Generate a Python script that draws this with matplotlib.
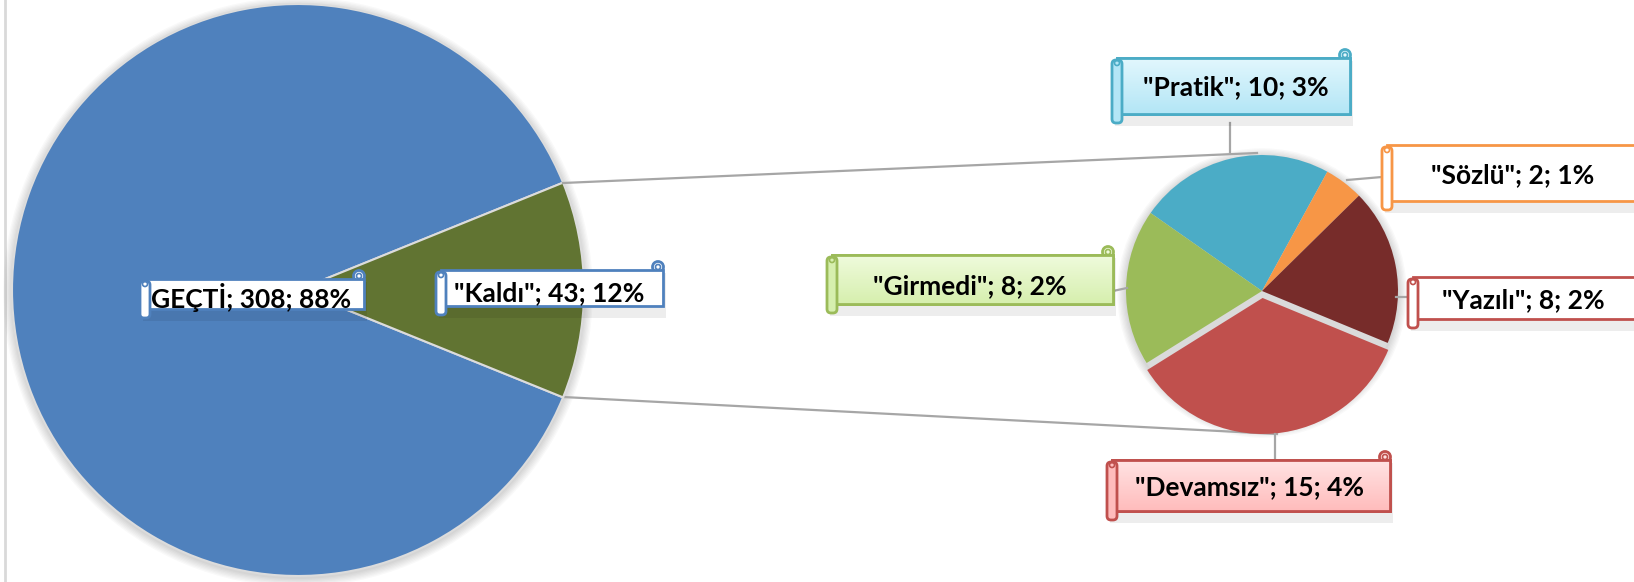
import numpy as np
import matplotlib.pyplot as plt
from matplotlib.patches import Rectangle, FancyBboxPatch, Circle
from matplotlib.colors import LinearSegmentedColormap

W, H = 1634, 582

# data
main_labels = ['GEÇTİ', '"Kaldı"']
main_values = [308, 43]
main_colors = ['#4F81BD', '#617432']

sub_labels = ['"Pratik"', '"Sözlü"', '"Yazılı"', '"Devamsız"', '"Girmedi"']
sub_values = [10, 2, 8, 15, 8]
sub_colors = ['#4BACC6', '#F79646', '#772C2A', '#C0504D', '#9BBB59']

total = sum(main_values)

def Y(y):
    # pixel row (from top) -> data y
    return H - y

# label boxes: x0, y0, x1, y1 (pixels from top), text centre, fill top/bottom, edge
boxes = {
    'GEÇTİ':      ((140, 279, 364, 318), (251, 298), '#ffffff', '#ffffff', '#4F81BD'),
    '"Kaldı"':    ((436, 270, 663, 315), (549, 293), '#ffffff', '#ffffff', '#4F81BD'),
    '"Pratik"':   ((1112, 58, 1350, 123), (1236, 87), '#e2f7fd', '#b3e6f6', '#4BACC6'),
    '"Sözlü"':    ((1382, 145, 1670, 210), (1513, 175), '#ffffff', '#ffffff', '#F79646'),
    '"Yazılı"':   ((1408, 277, 1670, 328), (1523, 300), '#ffffff', '#ffffff', '#C0504D'),
    '"Devamsız"': ((1107, 460, 1390, 520), (1250, 487), '#ffe3e3', '#ffbcbc', '#C0504D'),
    '"Girmedi"':  ((827, 255, 1113, 313), (970, 286), '#effbdc', '#d6efae', '#9BBB59'),
}

leaders = [
    ((1230, 123), (1230, 152)),
    ((1347, 180), (1382, 177)),
    ((1113, 291), (1127, 288)),
    ((1396, 297), (1408, 297)),
    ((1275, 434), (1275, 460)),
]

fig = plt.figure(figsize=(W / 100, H / 100), dpi=100)
ax = fig.add_axes([0, 0, 1, 1])


def shadow(ax, cx, cy, r):
    for i in range(7):
        ax.add_patch(Circle((cx, Y(cy) - 2), r + 1 + i * 1.3, fc='black',
                            alpha=0.025, lw=0, zorder=1))


def scroll(ax, box, face_top, face_bot, edge):
    x0, y0, x1, y1 = box
    roll = 10
    body_bot = y1 - 9
    ax.add_patch(Rectangle((x0 + 3, Y(y1) - 3), x1 - x0, y1 - y0, fc='black',
                           alpha=0.07, lw=0, zorder=5))
    ax.add_patch(Circle((x1 - 5, Y(y0 - 3)), 5.5, fc=face_top, ec=edge, lw=2, zorder=6))
    body = Rectangle((x0 + roll / 2, Y(body_bot)), x1 - x0 - roll / 2, body_bot - y0,
                     fc=face_bot, ec=edge, lw=2, zorder=7)
    ax.add_patch(body)
    if face_top != face_bot:
        cmap = LinearSegmentedColormap.from_list('g', [face_top, face_bot])
        grad = np.linspace(0, 1, 64).reshape(-1, 1)
        im = ax.imshow(grad, cmap=cmap, extent=(x0, x1, Y(body_bot), Y(y0)),
                       aspect='auto', origin='upper', zorder=7.5)
        im.set_clip_path(body)
        ax.add_patch(Rectangle((x0 + roll / 2, Y(body_bot)), x1 - x0 - roll / 2,
                               body_bot - y0, fc='none', ec=edge, lw=2, zorder=7.6))
    ax.add_patch(FancyBboxPatch((x0, Y(y1)), roll, y1 - y0 - 2,
                                boxstyle='round,pad=0,rounding_size=4',
                                fc=face_bot, ec=edge, lw=2, zorder=8))
    ax.add_patch(Circle((x0 + 5, Y(y0 + 5)), 2.5, fc='none', ec=edge, lw=1.2, zorder=9))
    ax.add_patch(Circle((x1 - 5, Y(y0 - 3)), 2.5, fc='none', ec=edge, lw=1.2, zorder=9))


# big pie
big_c, big_r = (298, 290), 286
shadow(ax, big_c[0], big_c[1], big_r)
kal_span = main_values[1] / total * 360
ax.pie(main_values, colors=main_colors, radius=big_r, center=(big_c[0], Y(big_c[1])),
       startangle=kal_span / 2, counterclock=True, frame=True,
       wedgeprops=dict(edgecolor='#dcdcdc', linewidth=1.5, zorder=2))

# small pie
sm_c, sm_r = (1262, 291), 136
shadow(ax, sm_c[0], sm_c[1], sm_r)
ax.add_patch(Circle((sm_c[0], Y(sm_c[1])), sm_r, fc='#dadada', lw=0, zorder=1.5))
explode = [0, 0, 0, 7, 0]
ax.pie(sub_values, colors=sub_colors, radius=sm_r, center=(sm_c[0], Y(sm_c[1])),
       startangle=145, counterclock=False, explode=explode, frame=True,
       wedgeprops=dict(linewidth=0, zorder=2))

# connector lines between pies
ax.plot([563, 1257], [Y(183), Y(153)], color='#a6a6a6', lw=1.6, zorder=3)
ax.plot([563, 1277], [Y(397), Y(434)], color='#a6a6a6', lw=1.6, zorder=1.2)

for (p, q) in leaders:
    ax.plot([p[0], q[0]], [Y(p[1]), Y(q[1])], color='#a6a6a6', lw=1.6, zorder=4)

# labels
all_labels = main_labels + sub_labels
all_values = main_values + sub_values
for lab, val in zip(all_labels, all_values):
    box, tc, ft, fb, ec = boxes[lab]
    scroll(ax, box, ft, fb, ec)
    pct = round(val / total * 100)
    ax.text(tc[0], Y(tc[1]), f'{lab}; {val}; {pct}%', ha='center', va='center',
            fontsize=19, fontweight='bold', family=['Lato', 'DejaVu Sans'],
            color='black', zorder=10)

# left border of the chart area
ax.plot([5, 5], [0, H], color='#d9d9d9', lw=2, zorder=0)

ax.set_xlim(0, W)
ax.set_ylim(0, H)
ax.set_aspect('auto')
ax.axis('off')

fig.savefig('out.png', dpi=100)
